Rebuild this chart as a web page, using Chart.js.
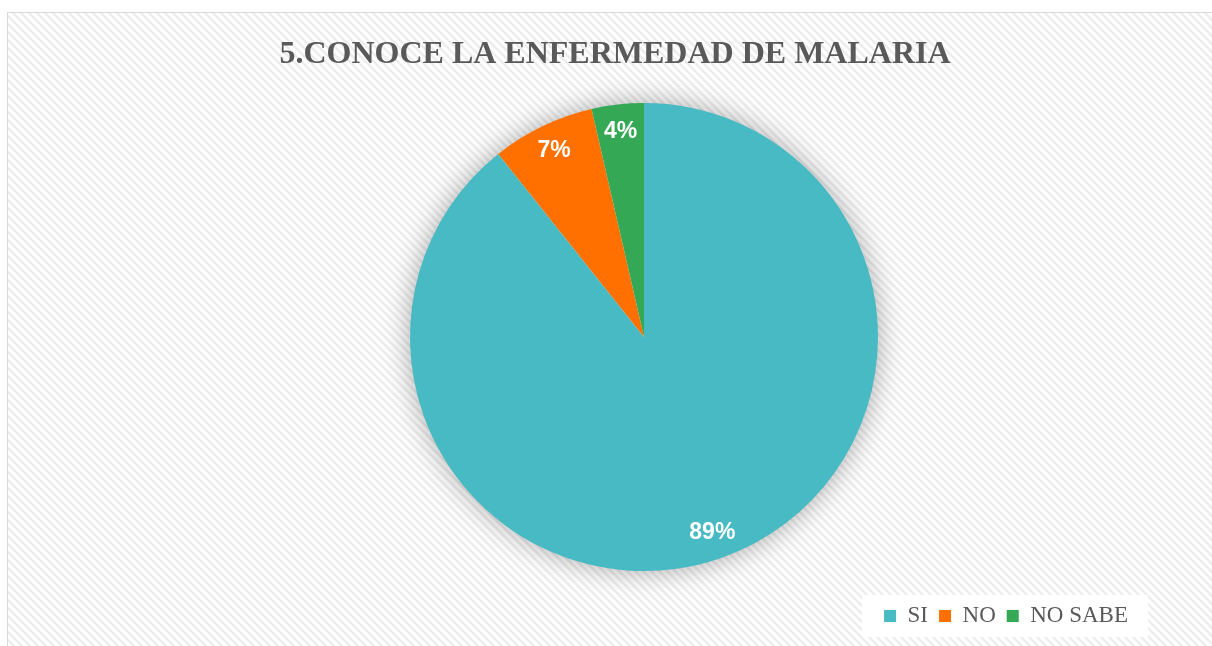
<!DOCTYPE html>
<html>
<head>
<meta charset="utf-8">
<script src="https://cdn.jsdelivr.net/npm/chart.js@4/dist/chart.umd.min.js"></script>
<style>
  html, body { margin: 0; background: #fff; overflow: hidden; }
  #wrap { width: 1212px; height: 646px; }
  canvas { display: block; }
</style>
</head>
<body>
<div id="wrap"><canvas id="pieChart" width="1212" height="646"></canvas></div>
<script>
const chartTitle = "5.CONOCE LA ENFERMEDAD DE MALARIA";
const labels = ["SI", "NO", "NO SABE"];
const values = [89.3, 7.1, 3.6];
const colors = ["#47BAC4", "#FF7000", "#35A855"];

// striped background + frame + white legend box
const backdrop = {
    id: "backdrop",
    beforeDraw(chart) {
        const ctx = chart.ctx;
        const p = document.createElement("canvas");
        p.width = 8; p.height = 8;
        const pc = p.getContext("2d");
        pc.fillStyle = "#ffffff";
        pc.fillRect(0, 0, 8, 8);
        pc.strokeStyle = "#ededed";
        pc.lineWidth = 2.5;
        pc.beginPath();
        pc.moveTo(-2, -2); pc.lineTo(10, 10);
        pc.moveTo(-2, 6); pc.lineTo(2, 10);
        pc.moveTo(6, -2); pc.lineTo(10, 2);
        pc.stroke();

        ctx.save();
        ctx.fillStyle = "#ffffff";
        ctx.fillRect(0, 0, chart.width, chart.height);
        ctx.fillStyle = ctx.createPattern(p, "repeat");
        ctx.fillRect(8, 13, chart.width, chart.height);
        ctx.strokeStyle = "#d9d9d9";
        ctx.lineWidth = 1;
        ctx.strokeRect(7.5, 12.5, chart.width + 10, chart.height + 10);

        const hb = chart.legend.legendHitBoxes;
        if (hb && hb.length) {
            const last = hb[hb.length - 1];
            ctx.fillStyle = "#ffffff";
            ctx.fillRect(hb[0].left - 22, chart.legend.top + 1.5, last.left + last.width - hb[0].left + 42, 42);
        }
        ctx.restore();
    },
    beforeDatasetsDraw(chart) {
        const arc = chart.getDatasetMeta(0).data[0];
        if (!arc) return;
        const ctx = chart.ctx;
        ctx.save();
        ctx.shadowColor = "rgba(0,0,0,0.35)";
        ctx.shadowBlur = 28;
        ctx.fillStyle = "#ffffff";
        ctx.beginPath();
        ctx.arc(arc.x, arc.y, arc.outerRadius - 1, 0, Math.PI * 2);
        ctx.fill();
        ctx.restore();
    },
    afterDatasetsDraw(chart) {
        const ctx = chart.ctx;
        const meta = chart.getDatasetMeta(0);
        ctx.save();
        ctx.fillStyle = "#ffffff";
        ctx.font = "bold 23px 'Liberation Sans', Arial, sans-serif";
        ctx.textAlign = "center";
        ctx.textBaseline = "middle";
        meta.data.forEach((arc, i) => {
            const mid = (arc.startAngle + arc.endAngle) / 2;
            const r = arc.outerRadius * 0.885;
            ctx.fillText(Math.round(values[i]) + "%", arc.x + Math.cos(mid) * r, arc.y + Math.sin(mid) * r);
        });
        ctx.restore();
    },
    afterDraw(chart) {
        const ctx = chart.ctx;
        ctx.save();
        ctx.fillStyle = "#595959";
        ctx.font = "bold 32px 'Liberation Serif', 'Times New Roman', serif";
        ctx.textAlign = "center";
        ctx.textBaseline = "alphabetic";
        ctx.fillText(chartTitle, 615, 63);
        ctx.restore();
    }
};

const ctx = document.getElementById("pieChart").getContext("2d");
new Chart(ctx, {
    type: "pie",
    data: {
        labels: labels,
        datasets: [{
            data: values,
            backgroundColor: colors,
            borderWidth: 0
        }]
    },
    options: {
        responsive: false,
        animation: false,
        radius: 234,
        layout: {
            padding: { top: 80.5, left: 149, right: 73, bottom: 8.5 }
        },
        plugins: {
            title: { display: false },
            tooltip: { enabled: false },
            legend: {
                display: true,
                position: "bottom",
                align: "end",
                labels: {
                    boxWidth: 12,
                    boxHeight: 12,
                    padding: 11,
                    color: "#595959",
                    font: { family: "'Liberation Serif', 'Times New Roman', serif", size: 23 }
                }
            }
        }
    },
    plugins: [backdrop]
});
</script>
</body>
</html>
